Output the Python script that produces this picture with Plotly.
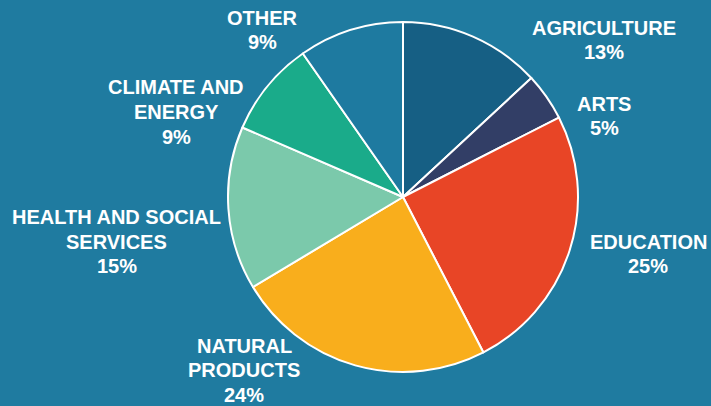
import plotly.graph_objects as go

categories = ["AGRICULTURE", "ARTS", "EDUCATION", "NATURAL PRODUCTS",
              "HEALTH AND SOCIAL SERVICES", "CLIMATE AND ENERGY", "OTHER"]
values = [13.1, 4.4, 24.9, 24.0, 15.1, 8.8, 9.7]
pct_labels = ["13%", "5%", "25%", "24%", "15%", "9%", "9%"]
label_lines = [["AGRICULTURE"], ["ARTS"], ["EDUCATION"], ["NATURAL", "PRODUCTS"],
               ["HEALTH AND SOCIAL", "SERVICES"], ["CLIMATE AND", "ENERGY"], ["OTHER"]]
colors = ["#165f84", "#323e66", "#e84526", "#f9ae1c", "#7bc9ab", "#1aab8a", "#1e7aa0"]

# label block centres in pixels (layout only)
label_pos = [(604, 40), (604, 116), (648, 254), (244, 370), (117, 241.5), (176, 112), (262, 30)]
LINE_H = 24.5

W, H = 711, 406
BG = "#1f7ba0"
cx, cy, r = 403, 197, 175

fig = go.Figure(go.Pie(
    labels=categories, values=values, sort=False, direction="clockwise",
    rotation=0, textinfo="none", hoverinfo="skip",
    marker=dict(colors=colors, line=dict(color="white", width=2)),
    domain=dict(x=[(cx - r) / W, (cx + r) / W], y=[(H - cy - r) / H, (H - cy + r) / H]),
    showlegend=False,
))

for lines, pct, (px, py) in zip(label_lines, pct_labels, label_pos):
    all_lines = lines + [pct]
    n = len(all_lines)
    for i, t in enumerate(all_lines):
        ly = py + (i - (n - 1) / 2) * LINE_H
        fig.add_annotation(
            x=px / W, y=1 - ly / H, xref="paper", yref="paper",
            text=t, showarrow=False,
            xanchor="center", yanchor="middle", align="center",
            font=dict(family="Liberation Sans, Arial, sans-serif", size=20, color="white", weight="bold"),
        )

fig.update_layout(
    width=W, height=H, margin=dict(l=0, r=0, t=0, b=0),
    paper_bgcolor=BG, plot_bgcolor=BG,
)
fig.write_html("out.html", config={"displayModeBar": False},
               post_script="document.body.style.margin='0';document.body.style.background='" + BG + "';")
